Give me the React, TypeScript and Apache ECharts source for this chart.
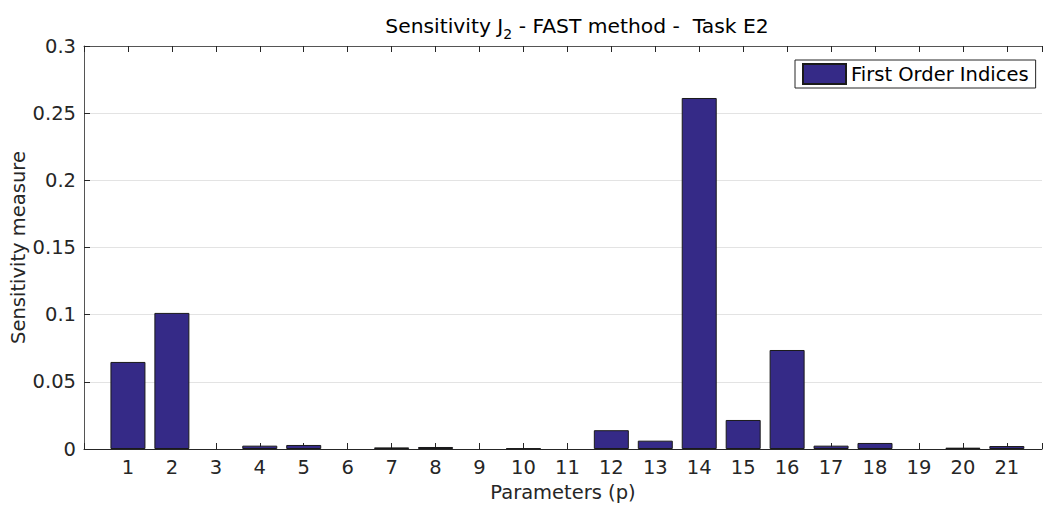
import React, { useEffect, useRef } from "react";
import * as echarts from "echarts";

const params = [1, 2, 3, 4, 5, 6, 7, 8, 9, 10, 11, 12, 13, 14, 15, 16, 17, 18, 19, 20, 21];
const firstOrder = [0.0648, 0.1013, 0, 0.0025, 0.003, 0, 0.0012, 0.0015, 0, 0.0005, 0, 0.014, 0.0062, 0.2613, 0.0216, 0.0737, 0.0025, 0.0045, 0, 0.001, 0.0022];
const yTicks = [0, 0.05, 0.1, 0.15, 0.2, 0.25, 0.3];

const FONT = "DejaVu Sans";
const TXT = "#262626";
const FS = 19.5;

export default function App() {
  const ref = useRef<HTMLDivElement>(null);
  useEffect(() => {
    document.body.style.margin = "0";
    const chart = echarts.init(ref.current!, null, { renderer: "svg" });
    chart.setOption({
      animation: false,
      backgroundColor: "#ffffff",
      textStyle: { fontFamily: FONT },
      title: {
        text: "Sensitivity J{sub|2} - FAST method -  Task E2",
        left: 572,
        textAlign: "center",
        top: 6,
        textStyle: {
          fontFamily: FONT,
          fontSize: 20.3,
          fontWeight: "normal",
          color: "#000",
          rich: {
            sub: { fontFamily: FONT, fontSize: 14, verticalAlign: "bottom", padding: [16, 0, 0, 0], color: "#000" },
          },
        },
      },
      legend: {
        left: 795,
        top: 60,
        orient: "vertical",
        backgroundColor: "#ffffff",
        borderColor: TXT,
        borderWidth: 1,
        borderRadius: 0,
        padding: [3, 7, 3, 7],
        itemWidth: 43,
        itemHeight: 20,
        itemGap: 4,
        textStyle: { fontFamily: FONT, fontSize: FS, color: "#000" },
        data: [{ name: "First Order Indices", icon: "rect" }],
      },
      grid: { left: 84, top: 46, width: 958, height: 403, containLabel: false, outerBoundsMode: "none" },
      xAxis: [
        {
          type: "value",
          min: 0,
          max: 21.8,
          interval: 1,
          name: "Parameters (p)",
          nameLocation: "middle",
          nameGap: 33,
          nameMoveOverlap: false,
          nameTextStyle: { fontFamily: FONT, fontSize: FS, color: TXT },
          axisLine: { show: true, lineStyle: { color: TXT, width: 1 } },
          axisTick: { show: true, inside: true, length: 6, lineStyle: { color: TXT } },
          axisLabel: {
            fontFamily: FONT,
            fontSize: FS,
            color: TXT,
            margin: 8,
            formatter: (v: number) => (v >= 1 && v <= 21 ? String(v) : ""),
          },
          splitLine: { show: false },
        },
        {
          type: "value",
          position: "top",
          min: 0,
          max: 21.8,
          interval: 1,
          axisLine: { show: true, lineStyle: { color: "#555", width: 1 } },
          axisTick: { show: true, inside: true, length: 6, lineStyle: { color: TXT } },
          axisLabel: { show: false },
          splitLine: { show: false },
        },
      ],
      yAxis: {
        type: "value",
        min: 0,
        max: 0.3,
        interval: 0.05,
        name: "Sensitivity measure",
        nameLocation: "middle",
        nameGap: 56,
        nameMoveOverlap: false,
        nameTextStyle: { fontFamily: FONT, fontSize: FS, color: TXT },
        axisLine: { show: true, lineStyle: { color: "#555", width: 1 } },
        axisTick: { show: true, inside: true, length: 6, lineStyle: { color: TXT } },
        axisLabel: {
          fontFamily: FONT,
          fontSize: FS,
          color: TXT,
          margin: 8,
          formatter: (v: number) => {
            const t = yTicks.find((x) => Math.abs(x - v) < 1e-9);
            return t === undefined ? "" : String(t);
          },
        },
        splitLine: { show: true, lineStyle: { color: "#e3e3e3", width: 1 } },
      },
      series: [
        {
          name: "First Order Indices",
          type: "bar",
          xAxisIndex: 0,
          barWidth: 35,
          data: params.map((p, i) => [p, firstOrder[i] === 0 ? null : firstOrder[i]]),
          itemStyle: { color: "#352A87", borderColor: "#1a1a1a", borderWidth: 1 },
        },
      ],
    });
    return () => chart.dispose();
  }, []);
  return <div ref={ref} style={{ width: 1044, height: 506 }} />;
}
